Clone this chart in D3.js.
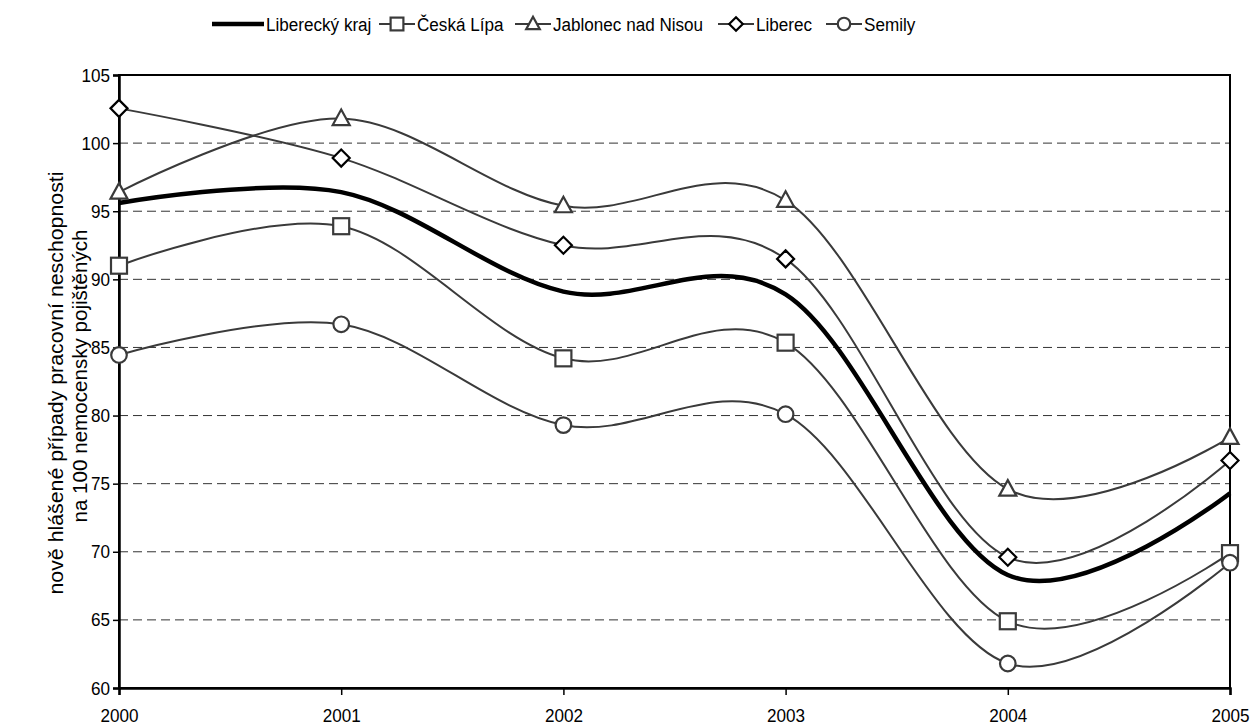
<!DOCTYPE html>
<html><head><meta charset="utf-8">
<script src="https://cdn.jsdelivr.net/npm/d3@7"></script>
<style>body{margin:0;background:#fff}svg{display:block}text{font-family:"Liberation Sans",Arial,sans-serif}</style>
</head><body><svg id="c" width="1256" height="728"></svg>
<script>
const years = [2000, 2001, 2002, 2003, 2004, 2005];
const yTicks = [60, 65, 70, 75, 80, 85, 90, 95, 100, 105];
const seriesNames = ["Liberecký kraj", "Česká Lípa", "Jablonec nad Nisou", "Liberec", "Semily"];
const kraj = [95.6, 96.4, 89.1, 88.9, 68.3, 74.3];
const ceskaLipa = [91.0, 93.9, 84.2, 85.35, 64.9, 69.9];
const jablonec = [96.4, 101.8, 95.4, 95.8, 74.6, 78.4];
const liberec = [102.55, 98.9, 92.5, 91.5, 69.6, 76.7];
const semily = [84.45, 86.7, 79.3, 80.1, 61.8, 69.2];
const yTitle = ["nově hlášené případy pracovní neschopnosti", "na 100 nemocensky pojištěných"];

const series = [
  {name: seriesNames[0], values: kraj, marker: null},
  {name: seriesNames[1], values: ceskaLipa, marker: "square"},
  {name: seriesNames[2], values: jablonec, marker: "triangle"},
  {name: seriesNames[3], values: liberec, marker: "diamond"},
  {name: seriesNames[4], values: semily, marker: "circle"}
];

const svg = d3.select("#c");
const L = 119, R = 1230, T = 75, B = 688;
const FS = "19px", SX = 0.9;
const x = d3.scaleLinear().domain([2000, 2005]).range([L, R]);
const y = d3.scaleLinear().domain([60, 105]).range([B, T]);

// gridlines
svg.append("g").selectAll("line").data(yTicks.filter(v => v > 60 && v < 105)).join("line")
  .attr("x1", L).attr("x2", R).attr("y1", d => y(d)).attr("y2", d => y(d))
  .attr("stroke", "#333").attr("stroke-width", 1).attr("stroke-dasharray", "9,5");

// frame
svg.append("rect").attr("x", L).attr("y", T).attr("width", R - L).attr("height", B - T)
  .attr("fill", "none").attr("stroke", "#000").attr("stroke-width", 2);

// axes
const yAxis = svg.append("g").attr("transform", `translate(${L},0)`)
  .call(d3.axisLeft(y).tickValues(yTicks).tickSize(6).tickPadding(3).tickFormat(d3.format("d")));
const xAxis = svg.append("g").attr("transform", `translate(0,${B})`)
  .call(d3.axisBottom(x).tickValues(years).tickSize(7).tickPadding(14).tickFormat(d3.format("d")));
[yAxis, xAxis].forEach(a => {
  a.select(".domain").attr("stroke", "#000").attr("stroke-width", 2.5);
  a.selectAll(".tick line").attr("stroke", "#000").attr("stroke-width", 1.5);
  a.selectAll(".tick text").attr("fill", "#000").style("font-size", FS).style("font-family", "Liberation Sans, Arial, sans-serif")
    .each(function() {
      const t = d3.select(this);
      const tx = +t.attr("x") || 0;
      t.attr("x", tx / SX).attr("transform", `scale(${SX},1)`);
    });
});

// y title
const titleLen = [423, 293];
const titleCenter = [383, 376];
yTitle.forEach((t, i) => {
  svg.append("text").attr("transform", `translate(${63 + i * 24},${titleCenter[i]}) rotate(-90)`)
    .attr("text-anchor", "middle").style("font-size", "20px").attr("fill", "#000")
    .attr("textLength", titleLen[i]).attr("lengthAdjust", "spacingAndGlyphs").text(t);
});

const line = d3.line().x((d, i) => x(years[i])).y(d => y(d)).curve(d3.curveCardinal.tension(0));

function drawMarker(g, type, cx, cy, stroke, k) {
  const s = 8 * k;
  const sw = 2.2;
  if (type === "square") g.append("rect").attr("x", cx - s).attr("y", cy - s).attr("width", 2 * s).attr("height", 2 * s)
    .attr("fill", "#fff").attr("stroke", stroke).attr("stroke-width", sw);
  else if (type === "triangle") g.append("path").attr("d", `M${cx},${cy - 9 * k}L${cx + 8.5 * k},${cy + 6.5 * k}L${cx - 8.5 * k},${cy + 6.5 * k}Z`)
    .attr("fill", "#fff").attr("stroke", stroke).attr("stroke-width", sw);
  else if (type === "diamond") g.append("path").attr("d", `M${cx},${cy - 8.5 * k}L${cx + 8.5 * k},${cy}L${cx},${cy + 8.5 * k}L${cx - 8.5 * k},${cy}Z`)
    .attr("fill", "#fff").attr("stroke", stroke).attr("stroke-width", sw);
  else if (type === "circle") g.append("circle").attr("cx", cx).attr("cy", cy).attr("r", 7.8 * k)
    .attr("fill", "#fff").attr("stroke", stroke).attr("stroke-width", sw);
}

const order = [2, 3, 0, 1, 4];
order.forEach(k => {
  const s = series[k];
  svg.append("path").attr("d", line(s.values)).attr("fill", "none")
    .attr("stroke", s.marker ? "#3a3a3a" : "#000").attr("stroke-width", s.marker ? 2 : 4.5);
});
order.forEach(k => {
  const s = series[k];
  if (!s.marker) return;
  const g = svg.append("g");
  s.values.forEach((v, i) => drawMarker(g, s.marker, x(years[i]), y(v), s.marker === "diamond" ? "#000" : "#3a3a3a", 1));
});

// legend
const legendX = [212, 379, 515, 718, 826];
const ly = 24;
series.forEach((s, i) => {
  const g = svg.append("g");
  const x0 = legendX[i];
  const w = s.marker ? 36 : 52;
  g.append("line").attr("x1", x0).attr("x2", x0 + w).attr("y1", ly).attr("y2", ly)
    .attr("stroke", s.marker ? "#3a3a3a" : "#000").attr("stroke-width", s.marker ? 2 : 4.5);
  if (s.marker) drawMarker(g, s.marker, x0 + w / 2, ly, s.marker === "diamond" ? "#000" : "#3a3a3a", 0.8);
  g.append("text").attr("transform", `translate(${x0 + w + 2},${ly + 7}) scale(${SX},1)`)
    .style("font-size", FS).attr("fill", "#000").text(s.name);
});
</script></body></html>
